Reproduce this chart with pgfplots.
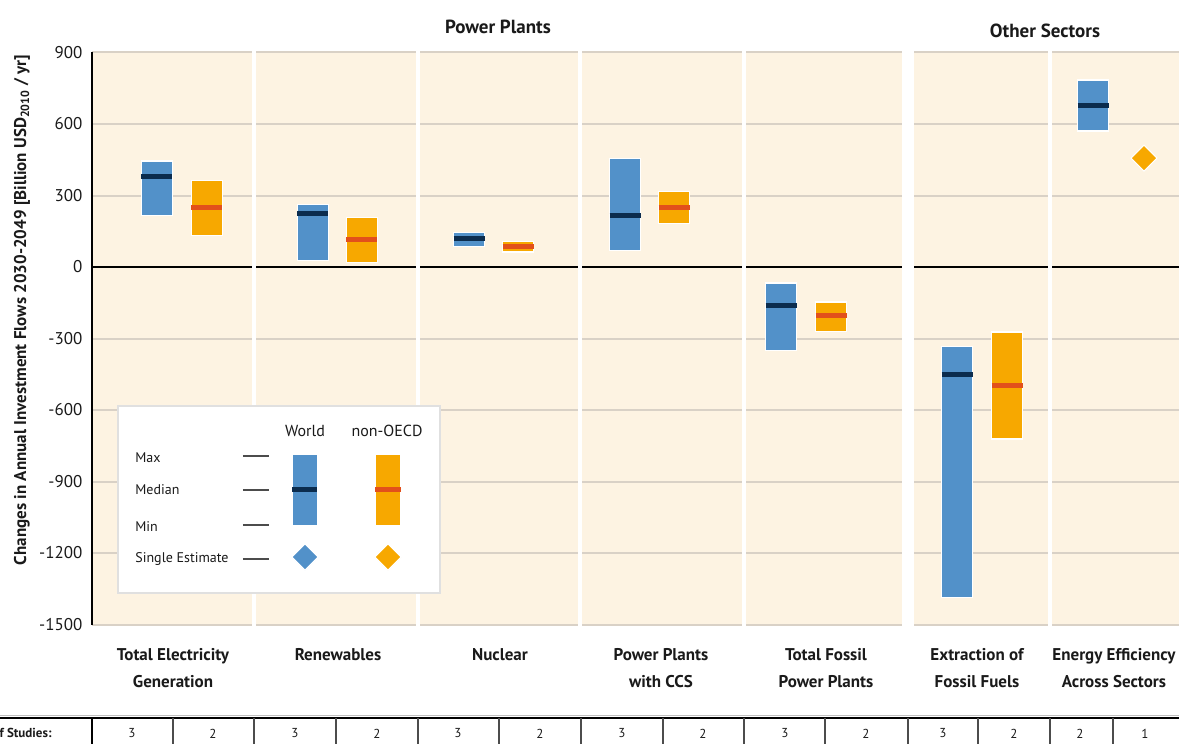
\documentclass[border=0pt]{standalone}
\usepackage{pgfplots}
\pgfplotsset{compat=1.18}
\usepgfplotslibrary{statistics}
\usepackage{fontspec}
\setmainfont{PT Sans}
\definecolor{cream}{HTML}{FDF3E2}
\definecolor{cblue}{HTML}{5291C9}
\definecolor{navy}{HTML}{0B2C4E}
\definecolor{corange}{HTML}{F7A800}
\definecolor{cred}{HTML}{E2501B}
\definecolor{gridc}{HTML}{D9D1C6}
\definecolor{txt}{HTML}{1A1A1A}
% #1 position, #2 min, #3 median, #4 max, #5 fill, #6 median colour, #7 width
\newcommand{\rangebar}[7]{%
\addplot[boxplot/draw direction=y,
  boxplot prepared={draw position=#1, lower whisker=#2, lower quartile=#2,
  median=#3, upper quartile=#4, upper whisker=#4, box extend=#7, whisker extend=0},
  boxplot/every box/.style={fill=#5, draw=white, line width=0.6pt},
  boxplot/every whisker/.style={draw=none},
  boxplot/every median/.style={draw=#6, line width=2.5pt}] coordinates {};}
\newcommand{\catlab}[2]{\node[anchor=north, align=center, inner sep=0pt,
  font=\fontsize{8.5}{13.5}\selectfont\bfseries, text=txt] at (axis cs:#1,-1599) {#2};}
\newcommand{\studies}[2]{\node[font=\fontsize{6.5}{7.5}\selectfont, text=txt] at (axis cs:#1,-1957) {#2};}
\newcommand{\vsep}[1]{\draw[black!70, line width=0.7pt] (axis cs:#1,-1892) -- (axis cs:#1,-2000);}
\newcommand{\psep}[1]{\draw[white, line width=2pt] (axis cs:#1,-1510) -- (axis cs:#1,910);}
\newcommand{\leglab}[2]{\node[anchor=west, inner sep=0pt, font=\fontsize{7}{9}\selectfont, text=txt] at (axis cs:135,#1) {#2};}
\newcommand{\legline}[1]{\draw[black!70, line width=0.7pt] (axis cs:243,#1) -- (axis cs:269,#1);}
\begin{document}
\begin{tikzpicture}
\begin{axis}[
  x=0.5pt, y=0.119167pt,
  xmin=92, xmax=1179, ymin=-1500, ymax=900,
  axis line style={draw=none},
  major tick length=0pt,
  xtick=\empty,
  ytick={-1500,-1200,...,900},
  /pgf/number format/assume math mode=true,
  /pgf/number format/1000 sep={},
  yticklabel style={font=\fontsize{8.5}{10}\selectfont, text=txt, inner sep=0pt, xshift=-4.6pt},
  ymajorgrids, grid style={gridc, line width=1pt},
  axis background/.style={fill=cream},
  clip=false,
]
\coordinate (BL) at (axis cs:0,-1997.2);
\coordinate (TR) at (axis cs:1179,1120.3);
% zero line and left axis
\draw[black, line width=1.1pt] (axis cs:92,0) -- (axis cs:1179,0);
\draw[black, line width=1.1pt] (axis cs:92,-1500) -- (axis cs:92,900);
% panel separators
\psep{254}\psep{418}\psep{580}\psep{744}\psep{1050}
\fill[white] (axis cs:902,-1510) rectangle (axis cs:914,910);

% World
\rangebar{157}{215}{378}{445}{cblue}{navy}{31}
\rangebar{313}{26}{225}{261}{cblue}{navy}{31}
\rangebar{469}{85}{120}{144}{cblue}{navy}{31}
\rangebar{625}{70}{217}{454}{cblue}{navy}{31}
\rangebar{781}{-352}{-163}{-67}{cblue}{navy}{31}
\rangebar{957}{-1386}{-453}{-335}{cblue}{navy}{31}
\rangebar{1093}{571}{678}{785}{cblue}{navy}{31}
% non-OECD
\rangebar{207}{132}{248}{362}{corange}{cred}{31}
\rangebar{362}{19}{114}{209}{corange}{cred}{31}
\rangebar{518}{63}{87}{108}{corange}{cred}{31}
\rangebar{674}{182}{249}{316}{corange}{cred}{31}
\rangebar{831}{-269}{-205}{-147}{corange}{cred}{31}
\rangebar{1007}{-722}{-499}{-273}{corange}{cred}{31}
\addplot[only marks, mark=square*, mark size=4.6pt,
  mark options={rotate=45, fill=corange, draw=white, line width=0.5pt}]
  coordinates {(1144,457)};

% legend
\fill[black!12] (axis cs:117,-579) rectangle (axis cs:441,-1372);
\fill[white] (axis cs:119,-587.4) rectangle (axis cs:439,-1363.6);
\node[font=\fontsize{8}{10}\selectfont, text=txt] at (axis cs:305,-688) {World};
\node[font=\fontsize{8}{10}\selectfont, text=txt] at (axis cs:387,-688) {non-OECD};
\leglab{-801.4}{Max}
\leglab{-935.7}{Median}
\leglab{-1090.9}{Min}
\leglab{-1225.2}{Single Estimate}
\legline{-793}\legline{-935.7}\legline{-1082.5}\legline{-1225.2}
\rangebar{305}{-1086.7}{-931.5}{-784.6}{cblue}{navy}{25}
\rangebar{388}{-1086.7}{-931.5}{-784.6}{corange}{cred}{25}
\addplot[only marks, mark=square*, mark size=4.6pt,
  mark options={rotate=45, fill=cblue, draw=white, line width=0.5pt}]
  coordinates {(305,-1216.8)};
\addplot[only marks, mark=square*, mark size=4.6pt,
  mark options={rotate=45, fill=corange, draw=white, line width=0.5pt}]
  coordinates {(388,-1216.8)};

% y label
\node[rotate=90, font=\fontsize{8.5}{10}\selectfont\bfseries, text=txt] at (axis cs:22,-180)
  {Changes in Annual Investment Flows 2030-2049 [Billion USD\textsubscript{2010} / yr]};
% headers
\node[font=\fontsize{9.5}{11}\selectfont\bfseries, text=txt] at (axis cs:498,1007) {Power Plants};
\node[font=\fontsize{9.5}{11}\selectfont\bfseries, text=txt] at (axis cs:1045,990) {Other Sectors};
% category labels
\catlab{173}{Total Electricity\\Generation}
\catlab{338}{Renewables}
\catlab{500}{Nuclear}
\catlab{661}{Power Plants\\with CCS}
\catlab{826}{Total Fossil\\Power Plants}
\catlab{977}{Extraction of\\Fossil Fuels}
\catlab{1114}{Energy Efficiency\\Across Sectors}
% number of studies table
\draw[black!25, line width=0.6pt] (axis cs:0,-1882) -- (axis cs:1179,-1882);
\draw[black, line width=1pt] (axis cs:0,-1892) -- (axis cs:1179,-1892);
\vsep{173}\vsep{254}\vsep{336}\vsep{418}\vsep{499}\vsep{581}\vsep{663}
\vsep{744}\vsep{825}\vsep{908}\vsep{978}\vsep{1050}\vsep{1113}
\draw[black, line width=1pt] (axis cs:92,-1892) -- (axis cs:92,-2000);
\node[anchor=east, inner sep=0pt, font=\fontsize{6.5}{7.5}\selectfont\bfseries, text=txt] at (axis cs:52,-1957) {Number of Studies:};
\studies{132}{3}\studies{213}{2}\studies{295}{3}\studies{377}{2}\studies{458}{3}
\studies{540}{2}\studies{622}{3}\studies{703}{2}\studies{785}{3}\studies{866}{2}
\studies{943}{3}\studies{1014}{2}\studies{1080}{2}\studies{1145}{1}
\end{axis}
\pgfresetboundingbox
\path[use as bounding box] (BL) rectangle (TR);
\end{tikzpicture}
\end{document}
